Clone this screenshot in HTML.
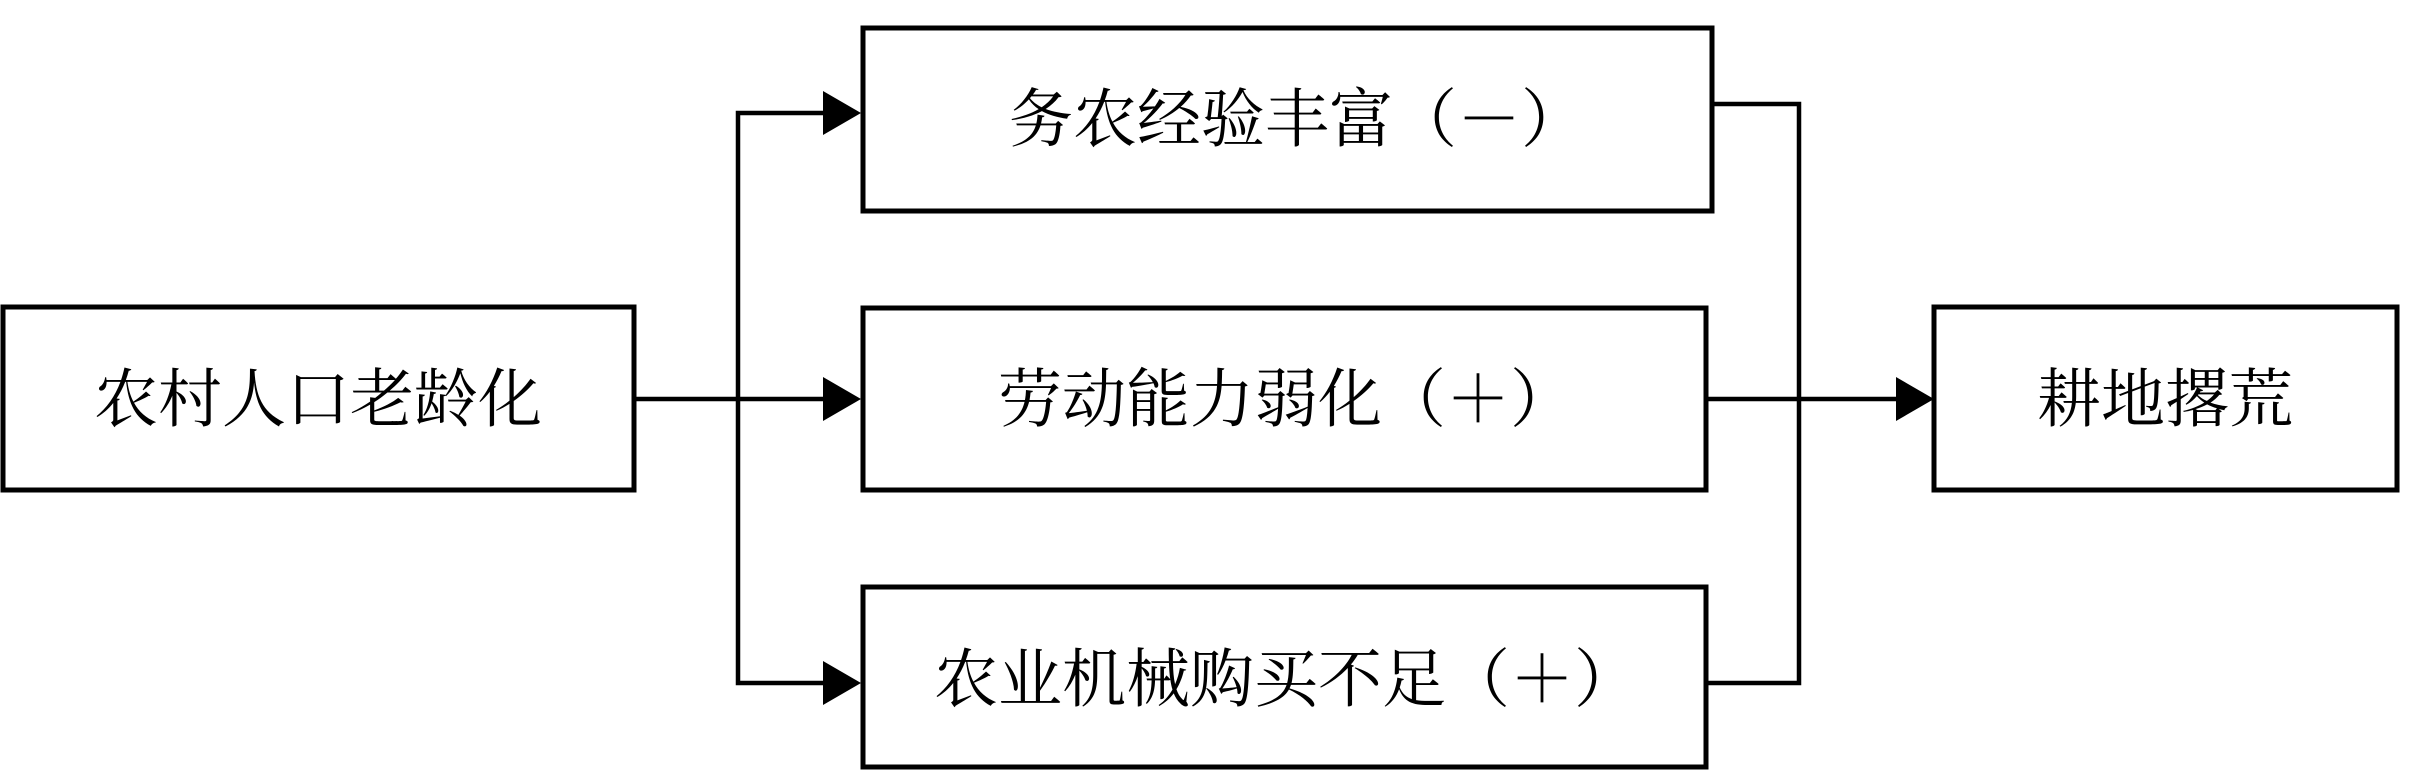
<!DOCTYPE html>
<html><head><meta charset="utf-8"><style>
html,body{margin:0;padding:0;background:#fff;}
svg{display:block;}
text{font-family:"Liberation Serif","Noto Serif CJK SC",serif;font-size:64px;fill:#000;}
</style></head><body>
<svg width="2409" height="772" viewBox="0 0 2409 772" xmlns="http://www.w3.org/2000/svg">
<g fill="none" stroke="#000" stroke-width="5">
<rect x="3" y="307" width="631" height="183"/>
<rect x="863" y="28" width="849" height="183"/>
<rect x="863" y="308" width="843" height="182"/>
<rect x="863" y="587" width="843" height="180"/>
<rect x="1934" y="307" width="463" height="183"/>
</g>
<g fill="none" stroke="#000" stroke-width="4.5">
<polyline points="634,399 830,399"/>
<polyline points="830,113 738,113 738,683 830,683"/>
<polyline points="1712,104 1799,104 1799,683 1706,683"/>
<polyline points="1706,399 1900,399"/>
</g>
<g fill="#000">
<polygon points="823,91 861,113 823,135"/>
<polygon points="823,377 861,399 823,421"/>
<polygon points="823,661 861,683 823,705"/>
<polygon points="1896,377 1934,399 1896,421"/>
</g>
<g text-anchor="middle" dominant-baseline="central">
<text x="318" y="400">农村人口老龄化</text>
<text x="1297" y="120">务农经验丰富（－）</text>
<text x="1286" y="400">劳动能力弱化（＋）</text>
<text x="1286" y="680">农业机械购买不足（＋）</text>
<text x="2165" y="400">耕地撂荒</text>
</g>
</svg>
</body></html>
